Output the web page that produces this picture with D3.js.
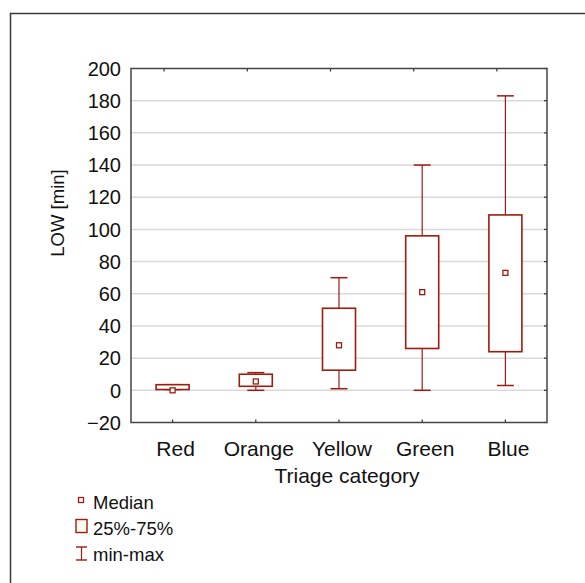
<!DOCTYPE html>
<html>
<head>
<meta charset="utf-8">
<script src="https://cdn.jsdelivr.net/npm/d3@7"></script>
<style>
  body { margin: 0; background: #fff; }
  text { font-family: "Liberation Sans", Arial, sans-serif; fill: #111; }
</style>
</head>
<body>
<div id="chart"></div>
<script>
var width = 585;
var height = 583;

// box plot values (minutes)
var categories = ["Red", "Orange", "Yellow", "Green", "Blue"];
var minVals = [0.5, 0, 1, 0, 3];
var q1Vals = [0.5, 2.5, 12.5, 26, 24];
var medians = [0, 5.5, 28, 61, 73];
var q3Vals = [3.5, 10, 51, 96, 109];
var maxVals = [3.5, 11, 70, 140, 183];
var yTicks = [-20, 0, 20, 40, 60, 80, 100, 120, 140, 160, 180, 200];
var legendLabels = ["Median", "25%-75%", "min-max"];

var boxColor = "#9c1c0f";
// plot area edges (note: "top" is reserved on window, so use plot* names)
var plotLeft = 131, plotRight = 547, plotTop = 68.5, plotBottom = 422.5;

var svg = d3.select("#chart").append("svg")
    .attr("width", width)
    .attr("height", height);

// outer frame (runs off the page on the right and bottom)
svg.append("rect")
    .attr("x", 10.5).attr("y", 13.5)
    .attr("width", 700).attr("height", 700)
    .attr("fill", "none")
    .attr("stroke", "#3a3a3a")
    .attr("stroke-width", 1.5);

var xScale = d3.scaleBand().domain(categories).range([plotLeft, plotRight]);
var yScale = d3.scaleLinear().domain([-20, 200]).range([plotBottom, plotTop]);

var rows = categories.map(function(c, i) {
    return {cat: c, min: minVals[i], q1: q1Vals[i], med: medians[i], q3: q3Vals[i], max: maxVals[i]};
});
function cx(d) { return xScale(d.cat) + xScale.bandwidth() / 2; }

// gridlines
svg.append("g").selectAll("line")
    .data(yTicks.filter(function(t) { return t > -20 && t < 200; }))
    .enter().append("line")
    .attr("x1", plotLeft).attr("x2", plotRight)
    .attr("y1", function(d) { return yScale(d); })
    .attr("y2", function(d) { return yScale(d); })
    .attr("stroke", "#d9d9d9")
    .attr("stroke-width", 1.5);

// y tick labels
svg.append("g").selectAll("text")
    .data(yTicks)
    .enter().append("text")
    .attr("x", 121)
    .attr("y", function(d) { return yScale(d); })
    .attr("dy", "0.36em")
    .attr("text-anchor", "end")
    .style("font-size", "20px")
    .text(function(d) { return d < 0 ? "\u2212" + Math.abs(d) : d; });

// right side small ticks
svg.append("g").selectAll("line")
    .data(yTicks)
    .enter().append("line")
    .attr("x1", plotRight - 3).attr("x2", plotRight)
    .attr("y1", function(d) { return yScale(d); })
    .attr("y2", function(d) { return yScale(d); })
    .attr("stroke", "#333").attr("stroke-width", 1.2);

// bottom ticks at categories, top ticks a bit shifted like the original
svg.append("g").selectAll("line")
    .data(rows)
    .enter().append("line")
    .attr("x1", cx).attr("x2", cx)
    .attr("y1", plotBottom).attr("y2", plotBottom - 3)
    .attr("stroke", "#333").attr("stroke-width", 1.2);
svg.append("g").selectAll("line")
    .data(rows)
    .enter().append("line")
    .attr("x1", function(d) { return cx(d) - 8.5; })
    .attr("x2", function(d) { return cx(d) - 8.5; })
    .attr("y1", plotTop).attr("y2", plotTop + 3)
    .attr("stroke", "#333").attr("stroke-width", 1.2);

// whiskers
var whisk = svg.append("g").selectAll("g").data(rows).enter().append("g");
whisk.append("line")
    .attr("x1", cx).attr("x2", cx)
    .attr("y1", function(d) { return yScale(d.max); })
    .attr("y2", function(d) { return yScale(d.q3); })
    .attr("stroke", boxColor).attr("stroke-width", 1.2);
whisk.append("line")
    .attr("x1", cx).attr("x2", cx)
    .attr("y1", function(d) { return yScale(d.q1); })
    .attr("y2", function(d) { return yScale(d.min); })
    .attr("stroke", boxColor).attr("stroke-width", 1.2);
whisk.append("line")
    .attr("x1", function(d) { return cx(d) - 8.5; })
    .attr("x2", function(d) { return cx(d) + 8.5; })
    .attr("y1", function(d) { return yScale(d.max); })
    .attr("y2", function(d) { return yScale(d.max); })
    .attr("stroke", boxColor).attr("stroke-width", 1.5);
whisk.append("line")
    .attr("x1", function(d) { return cx(d) - 8.5; })
    .attr("x2", function(d) { return cx(d) + 8.5; })
    .attr("y1", function(d) { return yScale(d.min); })
    .attr("y2", function(d) { return yScale(d.min); })
    .attr("stroke", boxColor).attr("stroke-width", 1.5);

// boxes
svg.append("g").selectAll("rect")
    .data(rows)
    .enter().append("rect")
    .attr("x", function(d) { return cx(d) - 16.5; })
    .attr("width", 33)
    .attr("y", function(d) { return yScale(d.q3); })
    .attr("height", function(d) { return yScale(d.q1) - yScale(d.q3); })
    .attr("fill", "#fff")
    .attr("stroke", boxColor)
    .attr("stroke-width", 1.6);

// medians
svg.append("g").selectAll("rect")
    .data(rows)
    .enter().append("rect")
    .attr("x", function(d) { return cx(d) - 2.5; })
    .attr("y", function(d) { return yScale(d.med) - 2.5; })
    .attr("width", 5).attr("height", 5)
    .attr("fill", "#fff")
    .attr("stroke", boxColor)
    .attr("stroke-width", 1.3);

// plot frame
svg.append("rect")
    .attr("x", plotLeft).attr("y", plotTop)
    .attr("width", plotRight - plotLeft).attr("height", plotBottom - plotTop)
    .attr("fill", "none")
    .attr("stroke", "#444")
    .attr("stroke-width", 1.5);

// category labels
svg.append("g").selectAll("text")
    .data(rows)
    .enter().append("text")
    .attr("x", function(d) { return cx(d) + 3; })
    .attr("y", 456)
    .attr("text-anchor", "middle")
    .style("font-size", "21px")
    .text(function(d) { return d.cat; });

svg.append("text")
    .attr("x", 347).attr("y", 483)
    .attr("text-anchor", "middle")
    .style("font-size", "21px")
    .text("Triage category");

svg.append("text")
    .attr("transform", "translate(64,213) rotate(-90)")
    .attr("text-anchor", "middle")
    .style("font-size", "18.5px")
    .text("LOW [min]");

// legend
var lg = svg.append("g");
lg.append("rect")
    .attr("x", 78.5).attr("y", 497.5).attr("width", 5).attr("height", 5)
    .attr("fill", "#fff").attr("stroke", boxColor).attr("stroke-width", 1.3);
lg.append("rect")
    .attr("x", 76).attr("y", 519.5).attr("width", 11).attr("height", 13)
    .attr("fill", "#fffaf0").attr("stroke", boxColor).attr("stroke-width", 1.4);
lg.append("line").attr("x1", 81.5).attr("x2", 81.5).attr("y1", 547).attr("y2", 560)
    .attr("stroke", boxColor).attr("stroke-width", 1.2);
lg.append("line").attr("x1", 76).attr("x2", 87).attr("y1", 547).attr("y2", 547)
    .attr("stroke", boxColor).attr("stroke-width", 1.4);
lg.append("line").attr("x1", 76).attr("x2", 87).attr("y1", 560).attr("y2", 560)
    .attr("stroke", boxColor).attr("stroke-width", 1.4);
lg.selectAll("text")
    .data(legendLabels)
    .enter().append("text")
    .attr("x", 93)
    .attr("y", function(d, i) { return 509 + i * 26; })
    .style("font-size", "18.5px")
    .text(function(d) { return d; });
</script>
</body>
</html>
